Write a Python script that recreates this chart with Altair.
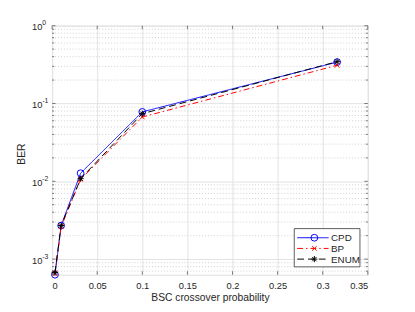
import altair as alt
import pandas as pd

# ---- data ----
p = [0.00316, 0.01, 0.0316, 0.1, 0.316]
ber_cpd = [0.00063, 0.0027, 0.0127, 0.078, 0.34]
ber_bp = [0.00065, 0.0026, 0.0106, 0.067, 0.31]
ber_enum = [0.00067, 0.0027, 0.0108, 0.074, 0.345]
series_names = ["CPD", "BP", "ENUM"]

x_ticks = [0, 0.05, 0.1, 0.15, 0.2, 0.25, 0.3, 0.35]
y_major = [0.001, 0.01, 0.1, 1.0]
y_exp = ["-3", "-2", "-1", "0"]
y_minor = [0.0007, 0.0008, 0.0009,
           0.002, 0.003, 0.004, 0.005, 0.006, 0.007, 0.008, 0.009,
           0.02, 0.03, 0.04, 0.05, 0.06, 0.07, 0.08, 0.09,
           0.2, 0.3, 0.4, 0.5, 0.6, 0.7, 0.8, 0.9]

FONT = "Liberation Sans"
TXT = "#262626"
AX = "#5a5a5a"
W, H = 322, 254

df = pd.DataFrame({
    "p": p * 3,
    "ber": ber_cpd + ber_bp + ber_enum,
    "series": [series_names[0]] * 5 + [series_names[1]] * 5 + [series_names[2]] * 5,
})
df_xt = pd.DataFrame({"v": x_ticks})
df_ymaj = pd.DataFrame({"v": y_major, "e": y_exp})
df_ymin = pd.DataFrame({"v": y_minor})

xscale = alt.Scale(domain=[0, 0.35], nice=False, zero=False)
yscale = alt.Scale(type="log", domain=[0.00063, 1], nice=False)

styles = {
    "CPD": dict(color="#0000ff", dash=[1, 0], shape="circle", size=48),
    "BP": dict(color="#ff0000", dash=[6, 3, 1.5, 3], shape="M-1,-1L1,1M-1,1L1,-1", size=22),
    "ENUM": dict(color="#000000", dash=[7, 4], shape="M-1,0L1,0M0,-1L0,1M-0.7,-0.7L0.7,0.7M-0.7,0.7L0.7,-0.7", size=40),
}

# frame layer carrying axes and major grid
frame = alt.Chart(df_xt).mark_point(opacity=0).encode(
    x=alt.X("v:Q", scale=xscale, axis=alt.Axis(
        values=x_ticks, format=".2~f", grid=True, gridColor="#e2e2e2", gridWidth=1,
        ticks=False, domain=False, labelFont=FONT, labelFontSize=9.5, labelColor=TXT,
        labelPadding=6, title="BSC crossover probability", titleFont=FONT,
        titleFontSize=10.5, titleFontWeight="normal", titleColor=TXT, titlePadding=3)),
    y=alt.Y("v:Q", scale=yscale, axis=alt.Axis(
        values=y_major, grid=True, gridColor="#e2e2e2", gridWidth=1, labels=False,
        ticks=False, domain=False, title=None)),
)
minor_grid = alt.Chart(df_ymin).mark_rule(strokeDash=[1, 2], color="#c4c4c4", strokeWidth=0.8).encode(
    y=alt.Y("v:Q", scale=yscale, axis=None), x=alt.value(0), x2=alt.value(W))

# inner ticks
tick_layers = []
for x0, x1 in [(0, 3.5), (W, W - 3.5)]:
    tick_layers.append(alt.Chart(df_ymaj).mark_rule(color=AX, strokeWidth=0.8).encode(
        y=alt.Y("v:Q", scale=yscale, axis=None), x=alt.value(x0), x2=alt.value(x1)))
for x0, x1 in [(0, 2), (W, W - 2)]:
    tick_layers.append(alt.Chart(df_ymin).mark_rule(color=AX, strokeWidth=0.8).encode(
        y=alt.Y("v:Q", scale=yscale, axis=None), x=alt.value(x0), x2=alt.value(x1)))
for y0, y1 in [(H, H - 3.5), (0, 3.5)]:
    tick_layers.append(alt.Chart(df_xt).mark_rule(color=AX, strokeWidth=0.8).encode(
        x=alt.X("v:Q", scale=xscale, axis=None), y=alt.value(y0), y2=alt.value(y1)))

# y tick labels with superscript exponents
ylab_base = alt.Chart(df_ymaj).mark_text(align="right", baseline="middle", font=FONT,
                                         fontSize=9.5, color=TXT, dy=1.5).encode(
    y=alt.Y("v:Q", scale=yscale, axis=None), x=alt.value(-10), text=alt.value("10"))
ylab_exp = alt.Chart(df_ymaj).mark_text(align="left", baseline="middle", font=FONT,
                                        fontSize=7, color=TXT, dy=-2.5).encode(
    y=alt.Y("v:Q", scale=yscale, axis=None), x=alt.value(-10), text="e:N")
ytitle = alt.Chart(df_xt.head(1)).mark_text(angle=270, font=FONT, fontSize=10.5, color=TXT,
                                            baseline="middle", align="center").encode(
    x=alt.value(-31), y=alt.value(131), text=alt.value("BER"))

# series
series_layers = []
for name in series_names:
    st = styles[name]
    base = alt.Chart(df).transform_filter(alt.datum.series == name)
    series_layers.append(base.mark_line(color=st["color"], strokeDash=st["dash"], strokeWidth=1).encode(
        x=alt.X("p:Q", scale=xscale, axis=None), y=alt.Y("ber:Q", scale=yscale, axis=None)))
    series_layers.append(base.mark_point(shape=st["shape"], size=st["size"], filled=False,
                                         color=st["color"], strokeWidth=1, opacity=1).encode(
        x=alt.X("p:Q", scale=xscale, axis=None), y=alt.Y("ber:Q", scale=yscale, axis=None)))

# legend (drawn manually to mimic the reference)
one = df_xt.head(1)
legend_layers = [alt.Chart(one).mark_rect(fill="white", stroke="#333333", strokeWidth=0.8).encode(
    x=alt.value(247), x2=alt.value(314), y=alt.value(207), y2=alt.value(246))]
for i, name in enumerate(series_names):
    st = styles[name]
    yy = 216.3 + i * 10.9
    legend_layers.append(alt.Chart(one).mark_rule(color=st["color"], strokeDash=st["dash"], strokeWidth=1).encode(
        x=alt.value(250), x2=alt.value(282), y=alt.value(yy)))
    legend_layers.append(alt.Chart(one).mark_point(shape=st["shape"], size=st["size"], filled=False,
                                                   color=st["color"], strokeWidth=1, opacity=1).encode(
        x=alt.value(267.5), y=alt.value(yy)))
    legend_layers.append(alt.Chart(one).mark_text(align="left", baseline="middle", font=FONT,
                                                  fontSize=10, color=TXT).encode(
        x=alt.value(284.5), y=alt.value(yy + 0.5), text=alt.value(name)))

chart = alt.layer(
    frame, minor_grid, *tick_layers, ylab_base, ylab_exp, ytitle,
    *series_layers, *legend_layers
).resolve_axis(x="independent", y="independent").properties(
    width=W, height=H,
    autosize=alt.AutoSizeParams(type="none"),
    padding={"left": 45, "top": 15, "right": 40, "bottom": 35},
).configure_view(stroke=AX, strokeWidth=1).configure(background="white")

chart.save("out.html", embed_options={"renderer": "svg", "actions": False})
